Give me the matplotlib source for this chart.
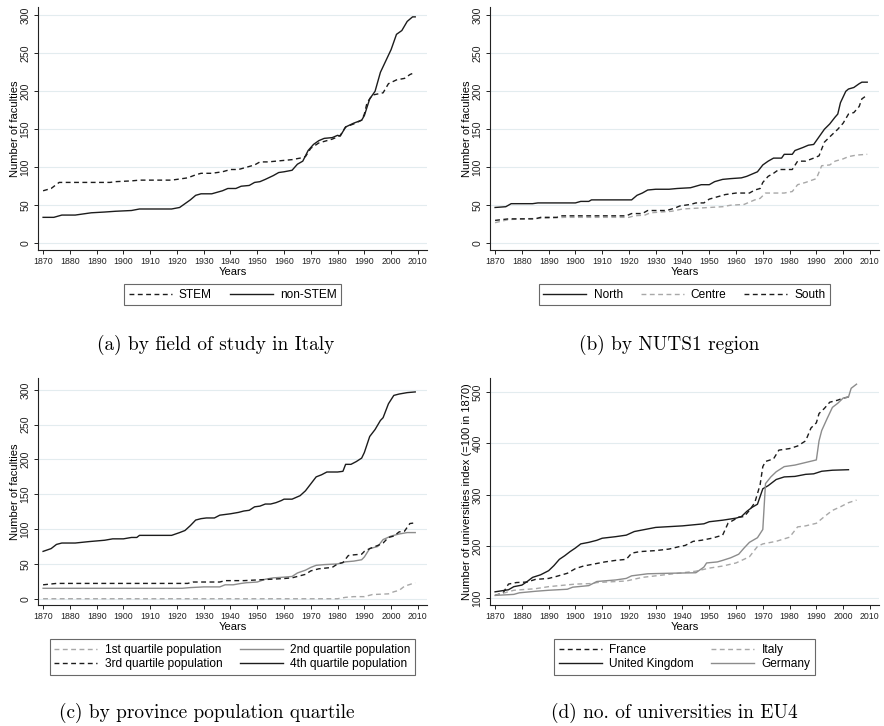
import matplotlib.pyplot as plt
from matplotlib.lines import Line2D

# (a) by field of study
yr_stem = [1870, 1873, 1876, 1895, 1897, 1903, 1906, 1918, 1920, 1924, 1927, 1929, 1933, 1937, 1940,
           1943, 1946, 1949, 1951, 1954, 1957, 1960, 1963, 1966, 1968, 1970, 1973, 1975, 1978, 1980,
           1981, 1983, 1986, 1989, 1990, 1991, 1993, 1997, 1999, 2002, 2005, 2007, 2009]
stem = [69, 72, 80, 80, 81, 82, 83, 83, 84, 86, 90, 92, 92, 94, 97,
        97, 100, 103, 107, 107, 108, 109, 110, 112, 114, 125, 132, 134, 137, 140,
        142, 153, 157, 162, 170, 185, 195, 198, 210, 215, 217, 222, 225]
yr_nonstem = [1870, 1874, 1877, 1882, 1888, 1893, 1897, 1903, 1906, 1918, 1921, 1923, 1925, 1927, 1929,
              1933, 1937, 1939, 1942, 1944, 1947, 1949, 1951, 1953, 1956, 1958, 1960, 1963, 1965, 1967,
              1969, 1971, 1973, 1975, 1978, 1980, 1981, 1983, 1986, 1989, 1990, 1992, 1994, 1996, 1998,
              2000, 2002, 2004, 2006, 2008, 2009]
nonstem = [34, 34, 37, 37, 40, 41, 42, 43, 45, 45, 47, 52, 57, 63, 65,
           65, 69, 72, 72, 75, 76, 80, 81, 84, 89, 93, 94, 96, 104, 108,
           122, 130, 135, 138, 139, 142, 141, 153, 158, 162, 168, 190, 200, 225, 240,
           255, 275, 280, 292, 298, 298]

# (b) by NUTS1 region
yr_north = [1870, 1874, 1876, 1884, 1886, 1900, 1902, 1905, 1906, 1921, 1923, 1925, 1927, 1930, 1935,
            1938, 1943, 1945, 1947, 1950, 1952, 1955, 1958, 1962, 1964, 1966, 1968, 1970, 1972, 1974,
            1977, 1978, 1981, 1982, 1985, 1987, 1989, 1991, 1993, 1995, 1997, 1998, 1999, 2001, 2002,
            2004, 2006, 2007, 2009]
north = [47, 48, 52, 52, 53, 53, 55, 55, 57, 57, 63, 66, 70, 71, 71,
         72, 73, 75, 77, 77, 81, 84, 85, 86, 88, 91, 94, 103, 108, 112,
         112, 117, 117, 122, 126, 129, 130, 140, 150, 157, 166, 170, 185, 200, 203,
         205, 210, 212, 212]
yr_centre = [1870, 1875, 1880, 1890, 1896, 1920, 1922, 1926, 1928, 1936, 1940, 1945, 1950, 1955, 1958,
             1963, 1965, 1967, 1969, 1971, 1978, 1981, 1983, 1986, 1990, 1992, 1995, 1997, 2000, 2002,
             2005, 2009]
centre = [27, 31, 32, 33, 34, 34, 36, 37, 40, 42, 45, 46, 47, 48, 50,
          51, 54, 57, 59, 66, 66, 68, 77, 80, 85, 102, 103, 108, 111, 114,
          116, 117]
yr_south = [1870, 1875, 1885, 1887, 1893, 1895, 1919, 1921, 1925, 1927, 1934, 1937, 1939, 1943, 1945,
            1948, 1950, 1953, 1956, 1960, 1965, 1967, 1969, 1970, 1972, 1974, 1976, 1981, 1983, 1986,
            1989, 1991, 1993, 1995, 1998, 2000, 2002, 2004, 2006, 2007, 2009]
south = [30, 32, 32, 34, 34, 36, 36, 39, 39, 43, 43, 46, 49, 51, 53,
         53, 58, 61, 64, 66, 66, 70, 72, 80, 88, 92, 97, 97, 108, 108,
         112, 115, 133, 140, 150, 158, 170, 172, 180, 190, 195]

# (c) by province population quartile
yr_q1 = [1870, 1980, 1983, 1986, 1990, 1993, 1999, 2001, 2003, 2005, 2009]
q1 = [0, 0, 2, 3, 3, 6, 7, 10, 12, 18, 23]
yr_q2 = [1870, 1922, 1925, 1930, 1936, 1938, 1941, 1944, 1946, 1950, 1953, 1956, 1960, 1963, 1965,
         1968, 1970, 1972, 1975, 1980, 1983, 1986, 1989, 1990, 1992, 1995, 1997, 2000, 2003, 2006, 2009]
q2 = [15, 15, 16, 17, 17, 20, 20, 22, 23, 24, 28, 30, 31, 32, 37,
      41, 45, 48, 49, 50, 53, 54, 56, 60, 72, 75, 85, 90, 93, 95, 95]
yr_q3 = [1870, 1875, 1924, 1926, 1936, 1938, 1945, 1950, 1955, 1960, 1963, 1965, 1968, 1970, 1973,
         1978, 1980, 1982, 1984, 1986, 1989, 1990, 1992, 1996, 1997, 1999, 2001, 2003, 2005, 2007, 2009]
q3 = [20, 22, 22, 24, 24, 26, 26, 27, 28, 29, 30, 32, 35, 40, 43,
      45, 50, 52, 62, 63, 64, 68, 72, 78, 80, 88, 90, 96, 97, 108, 109]
yr_q4 = [1870, 1873, 1875, 1877, 1882, 1887, 1890, 1893, 1896, 1900, 1903, 1905, 1906, 1918, 1921,
         1923, 1925, 1927, 1929, 1931, 1934, 1936, 1940, 1943, 1945, 1947, 1949, 1951, 1953, 1955,
         1957, 1959, 1960, 1963, 1966, 1968, 1970, 1972, 1974, 1976, 1980, 1982, 1983, 1985, 1987,
         1989, 1990, 1992, 1994, 1996, 1997, 1999, 2001, 2003, 2006, 2009]
q4 = [68, 72, 78, 80, 80, 82, 83, 84, 86, 86, 88, 88, 91, 91, 95,
      98, 105, 113, 115, 116, 116, 120, 122, 124, 126, 127, 132, 133, 136, 136,
      138, 141, 143, 143, 148, 155, 165, 175, 178, 182, 182, 183, 193, 193, 197,
      202, 210, 233, 243, 256, 260, 280, 292, 294, 296, 297]

# (d) no. of universities in EU4 (index, 1870 = 100)
yr_fr = [1870, 1873, 1875, 1878, 1882, 1885, 1890, 1893, 1897, 1900, 1903, 1907, 1911, 1915, 1919,
         1921, 1924, 1930, 1935, 1939, 1941, 1944, 1947, 1951, 1955, 1957, 1961, 1963, 1965, 1967,
         1969, 1970, 1971, 1974, 1976, 1980, 1983, 1986, 1988, 1990, 1991, 1993, 1995, 1998, 2000, 2002]
france = [105, 110, 127, 130, 131, 136, 138, 142, 148, 157, 162, 166, 170, 173, 175,
          187, 190, 192, 195, 200, 202, 210, 212, 216, 222, 245, 257, 258, 270, 285,
          320, 355, 365, 370, 387, 390, 395, 405, 430, 440, 458, 468, 480, 484, 488, 490]
yr_it = [1870, 1877, 1885, 1890, 1900, 1906, 1908, 1919, 1925, 1935, 1945, 1950, 1955, 1960, 1965,
         1968, 1970, 1975, 1980, 1983, 1986, 1990, 1993, 1996, 1999, 2002, 2005]
italy = [105, 115, 118, 122, 127, 128, 130, 133, 140, 146, 152, 158, 162, 168, 180,
         200, 205, 210, 218, 238, 240, 245, 258, 270, 277, 285, 290]
yr_uk = [1870, 1875, 1877, 1880, 1882, 1884, 1887, 1890, 1892, 1894, 1896, 1898, 1900, 1902, 1905,
         1908, 1910, 1915, 1919, 1922, 1926, 1930, 1940, 1948, 1950, 1955, 1960, 1962, 1964, 1966,
         1968, 1970, 1972, 1975, 1978, 1982, 1986, 1989, 1992, 1996, 2002]
uk = [112, 116, 122, 125, 132, 140, 145, 153, 163, 175, 182, 190, 197, 205, 208,
      212, 216, 219, 222, 229, 233, 237, 240, 244, 248, 251, 255, 258, 268, 276,
      282, 312, 318, 330, 335, 336, 340, 341, 346, 348, 349]
yr_de = [1870, 1877, 1879, 1885, 1890, 1897, 1899, 1905, 1908, 1915, 1919, 1921, 1927, 1935, 1945,
         1948, 1949, 1953, 1955, 1958, 1961, 1963, 1965, 1968, 1970, 1971, 1973, 1975, 1978, 1982,
         1986, 1990, 1991, 1992, 1994, 1996, 1998, 2000, 2002, 2003, 2005]
germany = [105, 107, 110, 113, 115, 117, 121, 124, 132, 135, 138, 143, 147, 148, 149,
           160, 168, 170, 173, 178, 185, 197, 208, 217, 233, 322, 335, 345, 355, 358,
           363, 368, 405, 425, 448, 470, 478, 488, 490, 507, 515]

DARK = '#1c1c1c'
LIGHT = '#a8a8a8'
MID = '#8c8c8c'
GRID = '#e3ecef'
SANS = 'Liberation Sans'

fig = plt.figure(figsize=(8.84, 7.26), dpi=100)
W, H = 884.0, 726.0


def make_axes(l, t, r, b):
    return fig.add_axes([l / W, 1 - b / H, (r - l) / W, (b - t) / H])


def style(ax, yticks, ylim, ylabel):
    ax.set_xlim(1868.1, 2013.4)
    ax.set_ylim(*ylim)
    ax.set_xticks(range(1870, 2011, 10))
    ax.set_yticks(yticks)
    ax.spines['top'].set_visible(False)
    ax.spines['right'].set_visible(False)
    for s in ('left', 'bottom'):
        ax.spines[s].set_linewidth(0.8)
        ax.spines[s].set_color('#222222')
    ax.tick_params(length=3, width=0.7, pad=2, colors='#222222')
    ax.tick_params(axis='x', labelsize=6.3)
    ax.tick_params(axis='y', labelsize=7.6, pad=2.5)
    for lab in ax.get_yticklabels():
        lab.set_rotation(90)
        lab.set_va('center')
        lab.set_fontfamily(SANS)
    for lab in ax.get_xticklabels():
        lab.set_fontfamily(SANS)
    ax.grid(axis='y', color=GRID, linewidth=0.8)
    ax.set_axisbelow(True)
    ax.set_xlabel('Years', fontsize=8, family=SANS, labelpad=0.5)
    ax.set_ylabel(ylabel, fontsize=8, family=SANS, labelpad=0)


def legend(ax, handles, labels, ncol, y):
    leg = ax.legend(handles, labels, ncol=ncol, loc='upper center', bbox_to_anchor=(0.5, y),
                    frameon=True, fancybox=False, edgecolor='#444444',
                    prop={'family': SANS, 'size': 8.6}, handlelength=3.6, columnspacing=1.5,
                    borderpad=0.4, labelspacing=0.15, handletextpad=0.6)
    leg.get_frame().set_linewidth(0.8)


dash = (0, (3.5, 2.5))
lw = 1.0
CAP = 13.9

# (a)
ax = make_axes(38, 7, 427, 250)
ax.plot(yr_stem, stem, color=DARK, lw=lw, ls=dash)
ax.plot(yr_nonstem, nonstem, color=DARK, lw=lw)
style(ax, range(0, 301, 50), (-9, 311), 'Number of faculties')
legend(ax, [Line2D([], [], color=DARK, lw=lw, ls=dash), Line2D([], [], color=DARK, lw=lw)],
       ['STEM', 'non-STEM'], 2, -0.115)
fig.text(216 / W, 1 - 345 / H, '(a) by field of study in Italy', ha='center', va='center',
         family='cmr10', fontsize=CAP)

# (b)
ax = make_axes(490, 7, 879, 250)
ax.plot(yr_north, north, color=DARK, lw=lw)
ax.plot(yr_centre, centre, color=LIGHT, lw=lw, ls=dash)
ax.plot(yr_south, south, color=DARK, lw=lw, ls=dash)
style(ax, range(0, 301, 50), (-9, 311), 'Number of faculties')
legend(ax, [Line2D([], [], color=DARK, lw=lw), Line2D([], [], color=LIGHT, lw=lw, ls=dash),
            Line2D([], [], color=DARK, lw=lw, ls=dash)],
       ['North', 'Centre', 'South'], 3, -0.115)
fig.text(669 / W, 1 - 345 / H, '(b) by NUTS1 region', ha='center', va='center',
         family='cmr10', fontsize=CAP)

# (c)
ax = make_axes(38, 378, 427, 605)
ax.plot(yr_q1, q1, color=LIGHT, lw=lw, ls=dash)
ax.plot(yr_q2, q2, color=MID, lw=lw)
ax.plot(yr_q3, q3, color=DARK, lw=lw, ls=dash)
ax.plot(yr_q4, q4, color=DARK, lw=lw)
style(ax, range(0, 301, 50), (-9, 317), 'Number of faculties')
legend(ax, [Line2D([], [], color=LIGHT, lw=lw, ls=dash), Line2D([], [], color=DARK, lw=lw, ls=dash),
            Line2D([], [], color=MID, lw=lw), Line2D([], [], color=DARK, lw=lw)],
       ['1st quartile population', '3rd quartile population',
        '2nd quartile population', '4th quartile population'], 2, -0.125)
fig.text(207 / W, 1 - 713 / H, '(c) by province population quartile', ha='center', va='center',
         family='cmr10', fontsize=CAP)

# (d)
ax = make_axes(490, 378, 879, 605)
ax.plot(yr_fr, france, color=DARK, lw=lw, ls=dash)
ax.plot(yr_it, italy, color=LIGHT, lw=lw, ls=dash)
ax.plot(yr_uk, uk, color=DARK, lw=lw)
ax.plot(yr_de, germany, color=MID, lw=lw)
style(ax, range(100, 501, 100), (86.4, 527), 'Number of universities index (=100 in 1870)')
legend(ax, [Line2D([], [], color=DARK, lw=lw, ls=dash), Line2D([], [], color=DARK, lw=lw),
            Line2D([], [], color=LIGHT, lw=lw, ls=dash), Line2D([], [], color=MID, lw=lw)],
       ['France', 'United Kingdom', 'Italy', 'Germany'], 2, -0.125)
fig.text(674 / W, 1 - 713 / H, '(d) no. of universities in EU4', ha='center', va='center',
         family='cmr10', fontsize=CAP)

fig.savefig('out.png', dpi=100, facecolor='white')
